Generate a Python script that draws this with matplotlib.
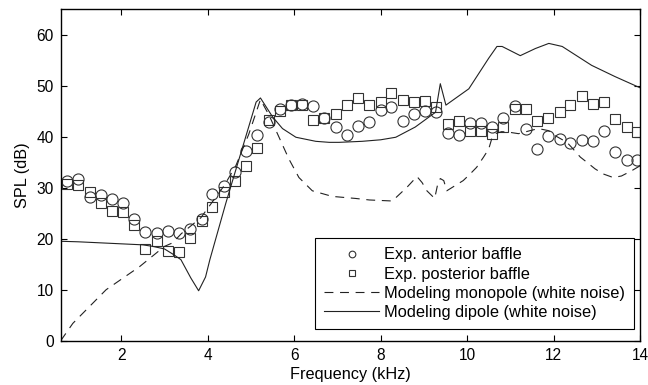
import numpy as np
import matplotlib
matplotlib.use("Agg")
import matplotlib.pyplot as plt

plt.rcParams['font.family'] = ['Liberation Sans', 'DejaVu Sans']
plt.rcParams['font.size'] = 11

# measured points (kHz)
freq = [0.75, 1.01, 1.27, 1.53, 1.79, 2.05, 2.30, 2.56, 2.82, 3.08,
        3.34, 3.60, 3.86, 4.11, 4.37, 4.63, 4.89, 5.15, 5.41, 5.67,
        5.93, 6.19, 6.44, 6.70, 6.96, 7.22, 7.48, 7.74, 8.00, 8.25,
        8.51, 8.77, 9.03, 9.29, 9.55, 9.81, 10.06, 10.32, 10.58, 10.84,
        11.10, 11.36, 11.62, 11.88, 12.14, 12.39, 12.65, 12.91, 13.17, 13.43,
        13.69, 13.94]

anterior = [31.4, 31.7, 28.2, 28.5, 27.7, 27.1, 23.9, 21.3, 21.2, 21.5,
            21.2, 22.0, 23.8, 28.7, 30.4, 33.0, 37.3, 40.4, 42.9, 45.4,
            46.2, 46.5, 46.0, 43.7, 42.0, 40.4, 42.2, 42.9, 45.2, 45.8,
            43.0, 44.5, 45.0, 44.9, 40.8, 40.4, 42.7, 42.7, 42.0, 43.7,
            46.0, 41.6, 37.6, 40.1, 39.6, 38.8, 39.3, 39.1, 41.2, 37.0,
            35.4, 35.4]

posterior = [30.8, 30.5, 29.1, 27.1, 25.4, 25.3, 22.6, 18.0, 19.5, 17.6,
             17.3, 20.1, 23.5, 26.2, 29.2, 31.4, 34.3, 37.8, 43.2, 45.0,
             46.2, 46.2, 43.2, 43.7, 44.5, 46.3, 47.5, 46.3, 46.9, 48.5,
             47.3, 46.8, 47.1, 45.8, 42.4, 43.1, 41.1, 41.2, 40.6, 42.0,
             45.5, 45.5, 43.1, 43.7, 44.9, 46.2, 48.0, 46.5, 46.8, 43.4,
             42.0, 40.9]

# model curves
mono_f = [0.6, 0.88, 1.65, 2.42, 3.0, 3.19, 3.39, 3.84, 4.38, 4.65,
          4.95, 5.22, 5.42, 5.65, 5.88, 6.11, 6.42, 6.88, 7.42, 7.74,
          8.27, 8.61, 8.84, 8.96, 9.07, 9.25, 9.32, 9.38, 9.46, 9.53,
          9.72, 9.91, 10.07, 10.22, 10.38, 10.5, 10.57, 10.65, 10.8, 10.96,
          11.19, 11.46, 11.65, 11.88, 12.04, 12.31, 12.42, 12.62, 12.77, 12.96,
          13.15, 13.38, 13.57, 13.8, 14.0]
mono_spl = [0.0, 3.4, 10.0, 14.5, 18.5, 19.2, 21.0, 24.1, 30.4, 34.3,
            40.5, 47.3, 44.2, 39.9, 35.6, 32.0, 29.4, 28.3, 27.9, 27.6,
            27.4, 30.1, 32.2, 31.0, 29.4, 27.9, 30.7, 31.8, 31.4, 29.4,
            30.4, 31.4, 32.7, 34.0, 36.0, 37.6, 39.6, 40.6, 41.0, 40.9,
            40.6, 41.2, 41.6, 41.2, 40.2, 38.9, 37.9, 36.0, 35.0, 33.7,
            32.7, 32.0, 32.3, 33.3, 34.3]

dip_f = [0.6, 1.0, 1.5, 2.0, 2.5, 2.73, 3.0, 3.19, 3.38, 3.61,
         3.79, 3.95, 4.05, 4.42, 5.12, 5.22, 5.5, 5.73, 6.04, 6.5,
         6.81, 7.04, 7.57, 8.0, 8.35, 8.8, 9.27, 9.38, 9.51, 10.04,
         10.5, 10.69, 10.81, 11.23, 11.58, 11.89, 12.2, 12.88, 13.42, 14.0]
dip_spl = [19.5, 19.4, 19.2, 19.0, 18.8, 18.5, 18.0, 17.0, 15.9, 12.3,
           9.8, 12.5, 15.9, 27.0, 46.8, 47.6, 43.9, 41.6, 39.9, 39.1,
           38.9, 38.9, 39.1, 39.4, 39.9, 41.9, 44.8, 50.4, 46.2, 49.4,
           55.4, 57.7, 57.7, 55.9, 57.3, 58.3, 57.7, 54.0, 51.8, 49.6]

fig = plt.figure(figsize=(6.48, 3.85), dpi=100)
ax = fig.add_axes([0.0937, 0.115, 0.894, 0.861])

ax.plot(freq, anterior, 'o', ms=8, mfc='none', mec='#333333', mew=0.8,
        label='Exp. anterior baffle')
ax.plot(freq, posterior, 's', ms=7, mfc='none', mec='#333333', mew=0.8,
        label='Exp. posterior baffle')
ax.plot(mono_f, mono_spl, color='#222222', lw=0.8, linestyle=(0, (8, 6)),
        label='Modeling monopole (white noise)')
ax.plot(dip_f, dip_spl, color='#222222', lw=0.8,
        label='Modeling dipole (white noise)')

ax.set_xlim(0.6, 14)
ax.set_ylim(0, 65)
ax.set_xticks([2, 4, 6, 8, 10, 12, 14])
ax.set_yticks([0, 10, 20, 30, 40, 50, 60])
ax.tick_params(direction='in', top=True, right=True, length=4, width=0.8,
               labelsize=11.2, pad=5)
for s in ax.spines.values():
    s.set_linewidth(1.0)

ax.set_xlabel('Frequency (kHz)', fontsize=11.7, labelpad=3)
ax.set_ylabel('SPL (dB)', fontsize=11.7, labelpad=5)

leg = ax.legend(loc='lower right', bbox_to_anchor=(0.99, 0.035),
                fancybox=False, framealpha=1, edgecolor='black',
                fontsize=11.8, markerscale=0.6, handlelength=3.4,
                borderpad=0.55, labelspacing=0.26, handletextpad=0.3,
                borderaxespad=0)
leg.get_frame().set_linewidth(0.8)

fig.savefig('out.png', dpi=100)
